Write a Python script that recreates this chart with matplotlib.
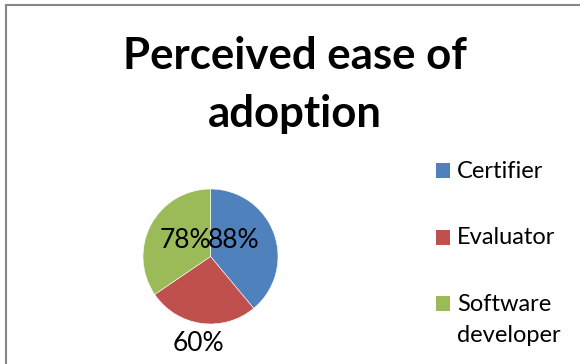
import matplotlib
matplotlib.use('Agg')
import matplotlib.pyplot as plt
from matplotlib.patches import Rectangle
from matplotlib.lines import Line2D

# survey results per respondent group
categories = ['Certifier', 'Evaluator', 'Software\ndeveloper']
values = [88, 60, 78]
colors = ['#4F81BD', '#C0504D', '#9BBB59']
title_lines = ['Perceived ease of', 'adoption']

W, H = 580, 364
plt.rcParams['font.family'] = ['Lato', 'DejaVu Sans']

fig = plt.figure(figsize=(W / 100, H / 100), dpi=100)
fig.patch.set_facecolor('white')


def px(x, y):
    # pixel position (from top-left) -> figure fraction
    return x / W, 1 - y / H


# chart area frame (only top and left edges fall inside the image)
fig.add_artist(Line2D([5.5 / W, 1.0], [1 - 4.5 / H] * 2, color='#868686', lw=1.5,
                      transform=fig.transFigure))
fig.add_artist(Line2D([5.5 / W] * 2, [0.0, 1 - 4.5 / H], color='#868686', lw=1.5,
                      transform=fig.transFigure))

# title, two lines
for line, base in zip(title_lines, [69, 127]):
    fig.text(*px(295, base), line, ha='center', va='baseline',
             fontsize=31.5, fontweight='bold', color='black')

# pie
cx, cy, r = 210.5, 256.5, 67.5
ax = fig.add_axes([(cx - r) / W, 1 - (cy + r) / H, 2 * r / W, 2 * r / H])
wedges, _ = ax.pie(values, colors=colors, startangle=90, counterclock=False,
                   radius=1, wedgeprops=dict(edgecolor='white', linewidth=0.4))
ax.set_xlim(-1, 1)
ax.set_ylim(-1, 1)
ax.set_aspect('equal')
ax.axis('off')

# value labels (offsets in pie radius units)
label_pos = [(0.34, 0.23), (-0.18, -1.29), (-0.37, 0.23)]
for v, (lx, ly) in zip(values, label_pos):
    ax.text(lx, ly, f'{v}%', ha='center', va='center', fontsize=19,
            color='black', clip_on=False)

# legend
for i, (name, col) in enumerate(zip(categories, colors)):
    yc = 170.5 + i * 66.5
    fig.add_artist(Rectangle(px(436, yc + 7.5), 14.5 / W, 15 / H,
                             facecolor=col, edgecolor='none',
                             transform=fig.transFigure))
    first, *rest = name.split('\n')
    fig.text(*px(457, yc + 7.5), first, ha='left', va='baseline',
             fontsize=17, color='black')
    for j, extra in enumerate(rest, start=1):
        fig.text(*px(457, yc + 7.5 + 31 * j), extra, ha='left', va='baseline',
                 fontsize=17, color='black')

fig.savefig('out.png', dpi=100, facecolor='white')
